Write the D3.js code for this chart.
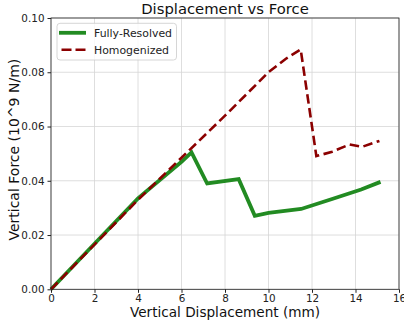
<!DOCTYPE html>
<html>
<head>
<meta charset="utf-8">
<script src="https://cdn.jsdelivr.net/npm/d3@7"></script>
<style>
  body { margin: 0; background: #fff; }
  svg { font-family: 'DejaVu Sans', sans-serif; }
</style>
</head>
<body>
<div id="container"></div>
<script>
  const xTicks = [0, 2, 4, 6, 8, 10, 12, 14, 16];
  const yTicks = [0, 0.02, 0.04, 0.06, 0.08, 0.10];

  const resolvedX = [0, 2, 4, 6, 6.46, 7.18, 8.63, 9.37, 10.0, 11.5, 12.96, 14.26, 15.15];
  const resolvedY = [0, 0.0168, 0.0335, 0.0470, 0.0505, 0.0390, 0.0406, 0.0271, 0.0282, 0.0296, 0.0334, 0.0368, 0.0396];

  const homogX = [0, 2, 4, 6, 8, 10, 10.8, 11.48, 12.2, 12.93, 13.73, 14.3, 15.1];
  const homogY = [0, 0.0165, 0.033, 0.0485, 0.064, 0.080, 0.0850, 0.0884, 0.0491, 0.0507, 0.0534, 0.0525, 0.0547];

  const width = 404, height = 322;
  const margin = { top: 18, right: 5, bottom: 33, left: 51 };
  const w = 399 - margin.left, h = 289.3 - margin.top;

  const svg = d3.select('#container').append('svg')
    .attr('width', width)
    .attr('height', height);

  const g = svg.append('g').attr('transform', `translate(${margin.left},${margin.top})`);

  const x = d3.scaleLinear().domain([0, 16]).range([0, w]);
  const y = d3.scaleLinear().domain([0, 0.10]).range([h, 0]);

  // grid
  g.append('g').selectAll('line').data(xTicks).enter().append('line')
    .attr('x1', d => x(d)).attr('x2', d => x(d))
    .attr('y1', 0).attr('y2', h)
    .attr('stroke', '#d6d6d6').attr('stroke-width', 0.8);
  g.append('g').selectAll('line').data(yTicks).enter().append('line')
    .attr('y1', d => y(d)).attr('y2', d => y(d))
    .attr('x1', 0).attr('x2', w)
    .attr('stroke', '#d6d6d6').attr('stroke-width', 0.8);

  const xAxis = g.append('g').attr('transform', `translate(0,${h})`)
    .call(d3.axisBottom(x).tickValues(xTicks).tickSize(3.5).tickPadding(1.5).tickFormat(d3.format('d')));
  const yAxis = g.append('g')
    .call(d3.axisLeft(y).tickValues(yTicks).tickSize(3.5).tickPadding(3).tickFormat(d3.format('.2f')));
  [xAxis, yAxis].forEach(a => {
    a.selectAll('text').attr('font-size', 10.4).attr('fill', '#222').attr('font-family', 'DejaVu Sans');
    a.select('.domain').remove();
    a.selectAll('line').attr('stroke', '#222');
  });

  const line = d3.line().x(d => x(d[0])).y(d => y(d[1]));

  g.append('path')
    .datum(resolvedX.map((v, i) => [v, resolvedY[i]]))
    .attr('d', line)
    .attr('fill', 'none')
    .attr('stroke', '#228b22')
    .attr('stroke-width', 3.8)
    .attr('stroke-linejoin', 'miter');

  g.append('path')
    .datum(homogX.map((v, i) => [v, homogY[i]]))
    .attr('d', line)
    .attr('fill', 'none')
    .attr('stroke', '#8b0000')
    .attr('stroke-width', 2.6)
    .attr('stroke-dasharray', '9.5,4.5');

  // frame
  g.append('rect')
    .attr('width', w).attr('height', h)
    .attr('fill', 'none').attr('stroke', '#222').attr('stroke-width', 0.8);

  // legend
  const lg = g.append('g').attr('transform', 'translate(6,5.3)');
  lg.append('rect')
    .attr('width', 119.5).attr('height', 36.7).attr('rx', 3)
    .attr('fill', 'rgba(255,255,255,0.8)').attr('stroke', '#ccc').attr('stroke-width', 0.8);
  const items = [
    { name: 'Fully-Resolved', color: '#228b22', sw: 3.8, dash: null, x0: 2 },
    { name: 'Homogenized', color: '#8b0000', sw: 2.6, dash: '10,4', x0: 4.5 }
  ];
  items.forEach((it, i) => {
    const yy = 9.5 + i * 17;
    lg.append('line')
      .attr('x1', it.x0).attr('x2', 29).attr('y1', yy).attr('y2', yy)
      .attr('stroke', it.color).attr('stroke-width', it.sw)
      .attr('stroke-dasharray', it.dash);
    lg.append('text')
      .attr('x', 37).attr('y', yy + 4.3)
      .attr('font-size', 10.9).attr('fill', '#222')
      .text(it.name);
  });

  svg.append('text')
    .attr('x', margin.left + w / 2).attr('y', 14)
    .attr('text-anchor', 'middle').attr('font-size', 14.8).attr('fill', '#111')
    .text('Displacement vs Force');

  svg.append('text')
    .attr('x', margin.left + w / 2).attr('y', 316.5)
    .attr('text-anchor', 'middle').attr('font-size', 13.6).attr('fill', '#111')
    .text('Vertical Displacement (mm)');

  svg.append('text')
    .attr('transform', `translate(18.5,${margin.top + h / 2 - 4}) rotate(-90)`)
    .attr('text-anchor', 'middle').attr('font-size', 14).attr('fill', '#111')
    .text('Vertical Force (10^9 N/m)');
</script>
</body>
</html>
